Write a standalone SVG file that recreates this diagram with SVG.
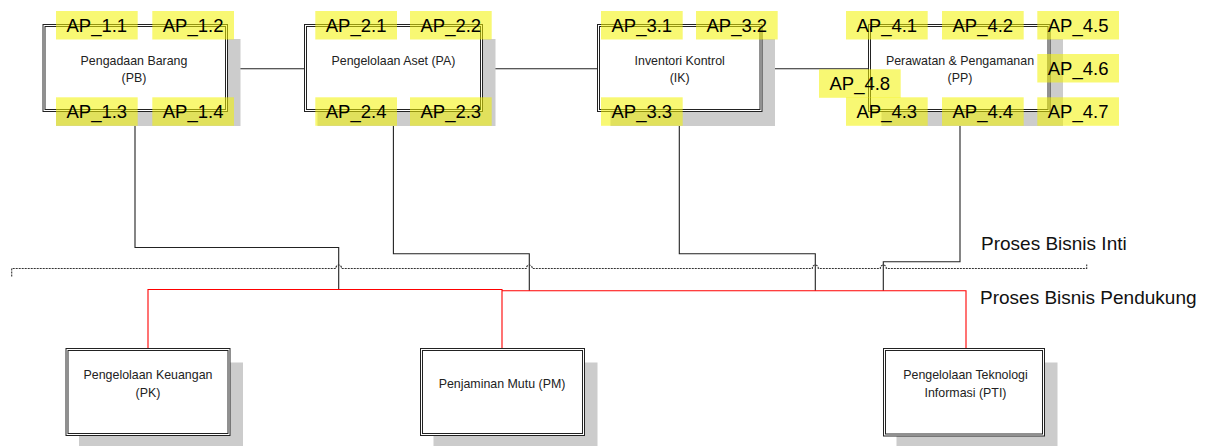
<svg xmlns="http://www.w3.org/2000/svg" width="1206" height="446" viewBox="0 0 1206 446">
  <style>
    text { font-family: "Liberation Sans", Arial, sans-serif; }
    .shadow { fill: #cccccc; stroke: none; }
    .outer { fill: #ffffff; stroke: #222222; stroke-width: 1; }
    .inner { fill: none; stroke: #222222; stroke-width: 1; }
    .name { font-size: 12.4px; fill: #222222; text-anchor: middle; }
    .tag rect { fill: #f2f200; fill-opacity: 0.55; stroke: none; }
    .tag text { font-size: 18.5px; fill: #000000; text-anchor: middle; }
    .link { fill: none; stroke: #222222; stroke-width: 1.1; }
    .support { fill: none; stroke: #ff0000; stroke-width: 1.1; }
    .divider { fill: none; stroke: #333333; stroke-width: 1.1; stroke-dasharray: 2 1; }
    .zone { font-size: 19px; fill: #111111; }
  </style>

  <!-- connectors -->
  <g id="connectors">
    <!-- core chain -->
    <path class="link" d="M227.5,68.7 H304.5"/>
    <path class="link" d="M482.5,68.7 H597.5"/>
    <path class="link" d="M762,68.7 H868.5"/>
    <!-- core to support bus -->
    <path class="link" d="M135,111.5 V247.5 H338.7 V289.5"/>
    <path class="link" d="M393.4,111.5 V253.7 H529.3 V290.7"/>
    <path class="link" d="M679.3,111.5 V253.7 H815.3 V290.7"/>
    <path class="link" d="M960,111.5 V261.7 H883.3 V290.7"/>
    <!-- support bus -->
    <path class="support" d="M148,348.5 V289.5 H502 V348.5 M502,290.7 H966 V348.5"/>
    <!-- boundary between core and support processes, with line jumps -->
    <path class="divider" d="M11.7,276.5 V268.5 H335.7 A3,3.5 0 0 1 341.7,268.5 H526.3 A3,3.5 0 0 1 532.3,268.5 H812.3 A3,3.5 0 0 1 818.3,268.5 H880.3 A3,3.5 0 0 1 886.3,268.5 H1086.7 V264.5"/>
  </g>

  <text class="zone" x="981" y="250">Proses Bisnis Inti</text>
  <text class="zone" x="980" y="303.7">Proses Bisnis Pendukung</text>

  <!-- core process nodes -->
  <g id="node-pb">
    <rect class="shadow" x="56" y="39" width="184.5" height="87"/>
    <rect class="outer" x="43" y="24.5" width="184.5" height="87"/>
    <rect class="inner" x="45" y="26.5" width="180.5" height="83"/>
    <text class="name" x="134" y="65">Pengadaan Barang</text>
    <text class="name" x="134" y="82">(PB)</text>
    <g class="tag"><rect x="56" y="11" width="81.7" height="28.5"/><text x="96.8" y="31.7">AP_1.1</text></g>
    <g class="tag"><rect x="152.3" y="11" width="81.7" height="28.5"/><text x="193.1" y="31.7">AP_1.2</text></g>
    <g class="tag"><rect x="56" y="97.3" width="81.7" height="28.5"/><text x="96.8" y="118">AP_1.3</text></g>
    <g class="tag"><rect x="152.3" y="97.3" width="81.7" height="28.5"/><text x="193.1" y="118">AP_1.4</text></g>
  </g>

  <g id="node-pa">
    <rect class="shadow" x="317.5" y="39" width="178" height="87"/>
    <rect class="outer" x="304.5" y="24.5" width="178" height="87"/>
    <rect class="inner" x="306.5" y="26.5" width="174" height="83"/>
    <text class="name" x="393.4" y="65">Pengelolaan Aset (PA)</text>
    <g class="tag"><rect x="315.3" y="11" width="81.7" height="28.5"/><text x="356.1" y="31.7">AP_2.1</text></g>
    <g class="tag"><rect x="410" y="11" width="81.7" height="28.5"/><text x="450.8" y="31.7">AP_2.2</text></g>
    <g class="tag"><rect x="315.3" y="97.3" width="81.7" height="28.5"/><text x="356.1" y="118">AP_2.4</text></g>
    <g class="tag"><rect x="410" y="97.3" width="81.7" height="28.5"/><text x="450.8" y="118">AP_2.3</text></g>
  </g>

  <g id="node-ik">
    <rect class="shadow" x="610.5" y="39" width="164.5" height="87"/>
    <rect class="outer" x="597.5" y="24.5" width="164.5" height="87"/>
    <rect class="inner" x="599.5" y="26.5" width="160.5" height="83"/>
    <text class="name" x="679.7" y="65">Inventori Kontrol</text>
    <text class="name" x="679.7" y="82">(IK)</text>
    <g class="tag"><rect x="601" y="11" width="81.7" height="28.5"/><text x="641.8" y="31.7">AP_3.1</text></g>
    <g class="tag"><rect x="696" y="11" width="81.7" height="28.5"/><text x="736.8" y="31.7">AP_3.2</text></g>
    <g class="tag"><rect x="601" y="97.3" width="81.7" height="28.5"/><text x="641.8" y="118">AP_3.3</text></g>
  </g>

  <g id="node-pp">
    <rect class="shadow" x="881.5" y="39" width="181.5" height="87"/>
    <rect class="outer" x="868.5" y="24.5" width="181.5" height="87"/>
    <rect class="inner" x="870.5" y="26.5" width="177.5" height="83"/>
    <text class="name" x="960" y="65">Perawatan &amp; Pengamanan</text>
    <text class="name" x="960" y="82">(PP)</text>
    <g class="tag"><rect x="846" y="11" width="81.7" height="28.5"/><text x="886.8" y="31.7">AP_4.1</text></g>
    <g class="tag"><rect x="942" y="11" width="81.7" height="28.5"/><text x="982.8" y="31.7">AP_4.2</text></g>
    <g class="tag"><rect x="1037.3" y="11" width="81.7" height="28.5"/><text x="1078.1" y="31.7">AP_4.5</text></g>
    <g class="tag"><rect x="1037.3" y="54" width="81.7" height="28.5"/><text x="1078.1" y="74.7">AP_4.6</text></g>
    <g class="tag"><rect x="819" y="69.3" width="81.7" height="28.5"/><text x="859.8" y="90">AP_4.8</text></g>
    <g class="tag"><rect x="846" y="97.3" width="81.7" height="28.5"/><text x="886.8" y="118">AP_4.3</text></g>
    <g class="tag"><rect x="942" y="97.3" width="81.7" height="28.5"/><text x="982.8" y="118">AP_4.4</text></g>
    <g class="tag"><rect x="1037.3" y="97.3" width="81.7" height="28.5"/><text x="1078.1" y="118">AP_4.7</text></g>
  </g>

  <!-- support process nodes -->
  <g id="node-pk">
    <rect class="shadow" x="79" y="362.5" width="164" height="87"/>
    <rect class="outer" x="66" y="348.5" width="164" height="87"/>
    <rect class="inner" x="68" y="350.5" width="160" height="83"/>
    <text class="name" x="148" y="379.3">Pengelolaan Keuangan</text>
    <text class="name" x="148" y="396.7">(PK)</text>
  </g>

  <g id="node-pm">
    <rect class="shadow" x="433.5" y="362.5" width="164" height="87"/>
    <rect class="outer" x="420.5" y="348.5" width="164" height="87"/>
    <rect class="inner" x="422.5" y="350.5" width="160" height="83"/>
    <text class="name" x="502" y="388.3">Penjaminan Mutu (PM)</text>
  </g>

  <g id="node-pti">
    <rect class="shadow" x="896.5" y="362.5" width="161" height="87"/>
    <rect class="outer" x="883.5" y="348.5" width="161" height="87.5"/>
    <rect class="inner" x="885.5" y="350.5" width="157" height="83.5"/>
    <text class="name" x="965.5" y="379.3">Pengelolaan Teknologi</text>
    <text class="name" x="965.5" y="396.7">Informasi (PTI)</text>
  </g>
</svg>
